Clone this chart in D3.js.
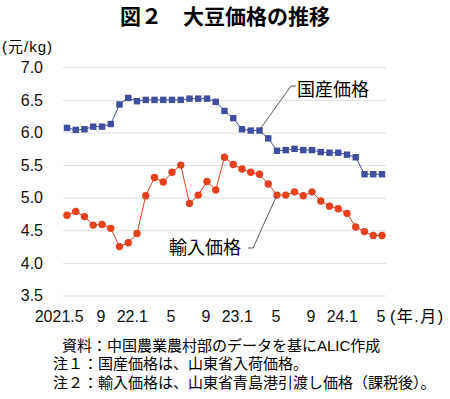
<!DOCTYPE html>
<html>
<head>
<meta charset="utf-8">
<script src="https://cdn.jsdelivr.net/npm/d3@7"></script>
<style>
  body { margin: 0; background: #fff; }
  svg { font-family: "Liberation Sans", Arial, "Noto Sans CJK JP", sans-serif; }
</style>
</head>
<body>
<div id="chart"></div>
<script>
// months 2021.5 - 2024.5
const months = ["2021-05","2021-06","2021-07","2021-08","2021-09","2021-10","2021-11","2021-12",
  "2022-01","2022-02","2022-03","2022-04","2022-05","2022-06","2022-07","2022-08","2022-09","2022-10","2022-11","2022-12",
  "2023-01","2023-02","2023-03","2023-04","2023-05","2023-06","2023-07","2023-08","2023-09","2023-10","2023-11","2023-12",
  "2024-01","2024-02","2024-03","2024-04","2024-05"];

// 国産価格 (元/kg)
const domestic = [6.07, 6.04, 6.05, 6.09, 6.09, 6.13, 6.43, 6.53, 6.48, 6.50, 6.50, 6.50, 6.50, 6.50, 6.52, 6.52, 6.52,
  6.47, 6.33, 6.22, 6.05, 6.03, 6.03, 5.91, 5.72, 5.73, 5.75, 5.73, 5.73, 5.70, 5.69, 5.69, 5.66, 5.62, 5.36, 5.36, 5.36];

// 輸入価格 (元/kg)
const imported = [4.73, 4.79, 4.71, 4.58, 4.59, 4.53, 4.25, 4.31, 4.45, 5.03, 5.31, 5.24, 5.39, 5.50, 4.91, 5.04, 5.25,
  5.12, 5.62, 5.51, 5.44, 5.39, 5.36, 5.21, 5.04, 5.04, 5.09, 5.03, 5.09, 4.95, 4.87, 4.83, 4.76, 4.55, 4.48, 4.42, 4.42];

const tickMonths = ["2021-05","2021-09","2022-01","2022-05","2022-09","2023-01","2023-05","2023-09","2024-01","2024-05"];
const tickLabels = ["2021.5","9","22.1","5","9","23.1","5","9","24.1","5"];
const yTicks = [3.5, 4.0, 4.5, 5.0, 5.5, 6.0, 6.5, 7.0];

const notes = ["資料：中国農業農村部のデータを基にALIC作成",
  "注１：国産価格は、山東省入荷価格。",
  "注２：輸入価格は、山東省青島港引渡し価格（課税後）。"];

const blue = "#3f4e9e", red = "#e5411c";

const W = 450, H = 399;
const svg = d3.select("#chart").append("svg")
  .attr("width", W).attr("height", H);

const x = d3.scalePoint().domain(months).range([67, 382]);
const y = d3.scaleLinear().domain([3.5, 7.0]).range([295.5, 67.3]);

// title
svg.append("text")
  .attr("x", 225).attr("y", 24)
  .attr("text-anchor", "middle")
  .style("font-family", "'Noto Sans CJK JP', sans-serif")
  .style("font-weight", "bold")
  .style("font-size", "21px")
  .text("図２　大豆価格の推移");

// unit
svg.append("text")
  .attr("x", 2).attr("y", 52)
  .style("font-size", "15px")
  .style("letter-spacing", "1px")
  .text("(元/kg)");

// grid
svg.append("g")
  .attr("transform", "translate(63,0)")
  .call(d3.axisLeft(y).tickValues(yTicks).tickSize(-323).tickFormat(""))
  .call(g => g.select(".domain").remove())
  .call(g => g.selectAll("line").attr("stroke", "#dedede"));

// y labels
svg.append("g")
  .attr("transform", "translate(43,0)")
  .call(d3.axisLeft(y).tickValues(yTicks).tickSize(0).tickPadding(0).tickFormat(d3.format(".1f")))
  .call(g => g.select(".domain").remove())
  .call(g => g.selectAll("text")
    .attr("fill", "#111")
    .style("font-size", "16px")
    .style("font-family", "'Liberation Sans', Arial, sans-serif"));

// x labels
const xAxis = svg.append("g")
  .attr("transform", "translate(0,307)")
  .call(d3.axisBottom(x).tickValues(tickMonths).tickSize(0).tickPadding(0)
    .tickFormat((d, i) => tickLabels[i]))
  .call(g => g.select(".domain").remove());
xAxis.selectAll("text")
  .attr("fill", "#111")
  .style("font-size", "16px")
  .style("font-family", "'Liberation Sans', Arial, sans-serif")
  .attr("dy", "0.95em")
  .attr("dx", function() { return -0.17 * this.getComputedTextLength(); });

svg.append("text")
  .attr("x", 390).attr("y", 322)
  .style("font-size", "16px")
  .style("letter-spacing", "1.5px")
  .text("(年.月)");

// lines
const line = d3.line()
  .x((d, i) => x(months[i]))
  .y(d => y(d));

svg.append("path")
  .datum(domestic)
  .attr("fill", "none")
  .attr("stroke", blue)
  .attr("stroke-width", 1)
  .attr("d", line);

svg.append("path")
  .datum(imported)
  .attr("fill", "none")
  .attr("stroke", red)
  .attr("stroke-width", 1)
  .attr("d", line);

svg.selectAll(".sq")
  .data(domestic)
  .enter().append("rect")
  .attr("class", "sq")
  .attr("x", (d, i) => x(months[i]) - 3.2)
  .attr("y", d => y(d) - 3.2)
  .attr("width", 6.4).attr("height", 6.4)
  .attr("fill", blue);

svg.selectAll(".dot")
  .data(imported)
  .enter().append("circle")
  .attr("class", "dot")
  .attr("cx", (d, i) => x(months[i]))
  .attr("cy", d => y(d))
  .attr("r", 3.7)
  .attr("fill", red);

// callouts
const lead = d3.line();
const iDom = months.indexOf("2023-03");
const iImp = months.indexOf("2023-05");

svg.append("path")
  .attr("d", lead([[296, 86], [291, 86], [x(months[iDom]) + 1, y(domestic[iDom]) - 2]]))
  .attr("fill", "none").attr("stroke", "#333").attr("stroke-width", 0.8);
svg.append("text")
  .attr("x", 297).attr("y", 96)
  .style("font-size", "18px")
  .text("国産価格");

svg.append("path")
  .attr("d", lead([[248, 248], [253, 248], [x(months[iImp]) - 1, y(imported[iImp]) + 2]]))
  .attr("fill", "none").attr("stroke", "#333").attr("stroke-width", 0.8);
svg.append("text")
  .attr("x", 169).attr("y", 254)
  .style("font-size", "18px")
  .text("輸入価格");

// notes
svg.selectAll(".note")
  .data(notes)
  .enter().append("text")
  .attr("class", "note")
  .attr("x", (d, i) => i === 0 ? 62 : 53)
  .attr("y", (d, i) => 351 + i * 18.3)
  .style("font-size", "15px")
  .text(d => d);
</script>
</body>
</html>
